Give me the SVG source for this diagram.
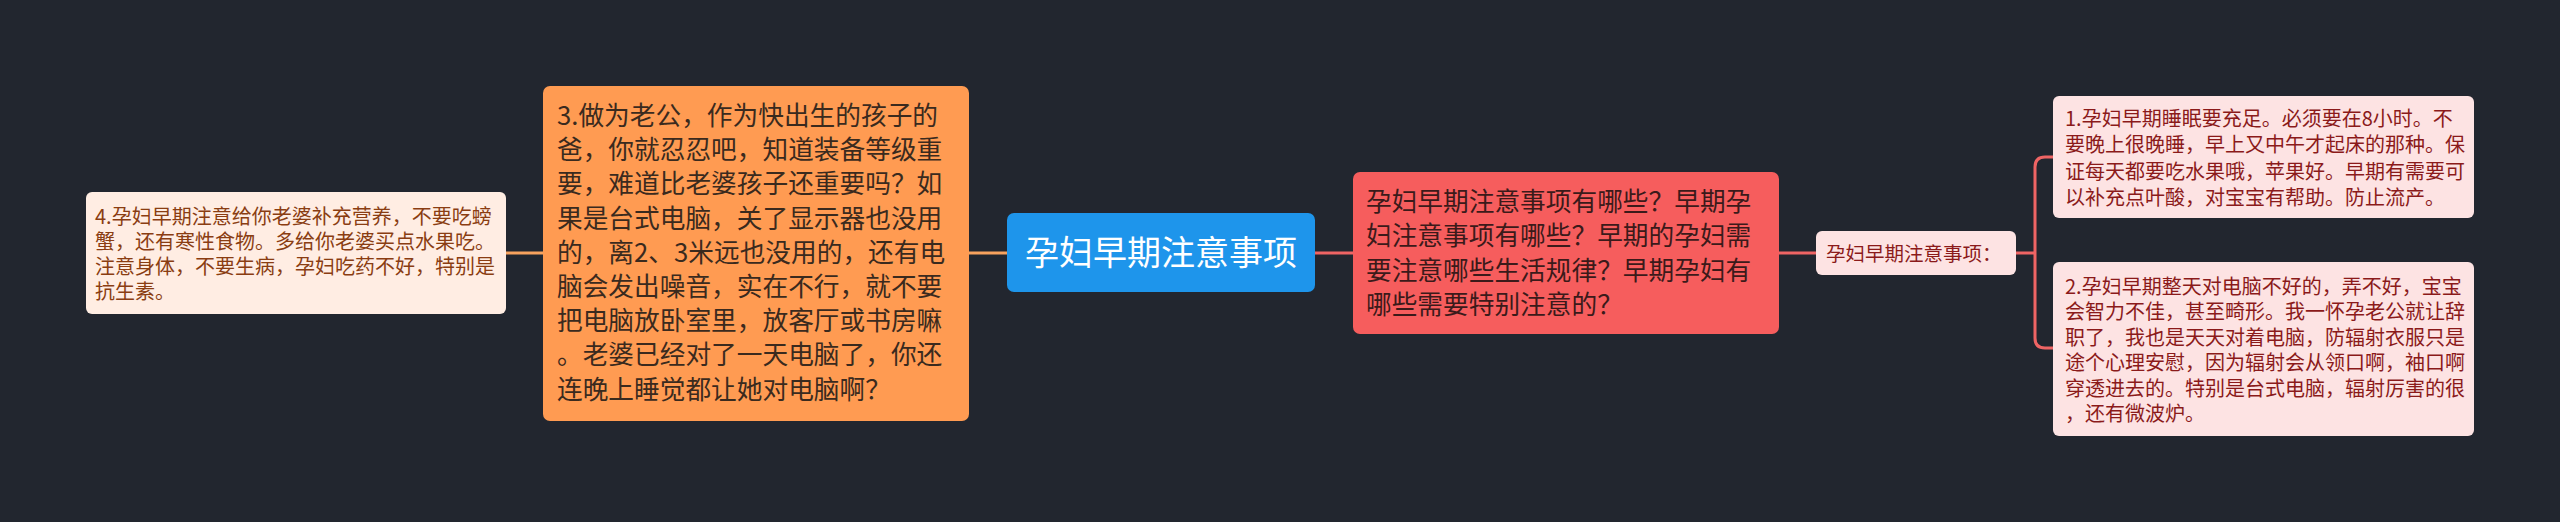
<svg xmlns="http://www.w3.org/2000/svg" width="2560" height="522" viewBox="0 0 2560 522">
<style>
.t{font-family:"Noto Sans CJK SC","Noto Sans",sans-serif}
.s20{font-size:20px}
.s26{font-size:25.7px}
.con{fill:none;stroke-width:3}
</style>
<rect x="0" y="0" width="2560" height="522" fill="#22262F"/>
<g id="connectors">
<line class="con" x1="506" y1="253" x2="543" y2="253" stroke="#F7A25E"/>
<line class="con" x1="969" y1="253" x2="1007" y2="253" stroke="#F7A25E"/>
<line class="con" x1="1315" y1="253" x2="1353" y2="253" stroke="#EF6464"/>
<line class="con" x1="1779" y1="253" x2="1816" y2="253" stroke="#EF6464"/>
<path class="con" d="M2016 253 H2035 M2053 157 H2045 Q2035 157 2035 167 V338 Q2035 348 2045 348 H2053" stroke="#EF6464"/>
</g>
<g id="center">
<rect x="1007" y="213" width="308" height="79" rx="7" fill="#1E95EB"/>
<text class="t" x="1161" y="265" font-size="34" fill="#FFFFFF" text-anchor="middle">孕妇早期注意事项</text>
</g>
<g id="node3">
<rect x="543" y="86" width="426" height="335" rx="7" fill="#FF9B52"/>
<text class="t s26" fill="#3A2A1E">
<tspan x="557" y="125">3.做为老公，作为快出生的孩子的</tspan>
<tspan x="557" y="159.2">爸，你就忍忍吧，知道装备等级重</tspan>
<tspan x="557" y="193.4">要，难道比老婆孩子还重要吗？如</tspan>
<tspan x="557" y="227.6">果是台式电脑，关了显示器也没用</tspan>
<tspan x="557" y="261.8">的，离2、3米远也没用的，还有电</tspan>
<tspan x="557" y="296">脑会发出噪音，实在不行，就不要</tspan>
<tspan x="557" y="330.2">把电脑放卧室里，放客厅或书房嘛</tspan>
<tspan x="557" y="364.4">。老婆已经对了一天电脑了，你还</tspan>
<tspan x="557" y="398.6">连晚上睡觉都让她对电脑啊？</tspan>
</text>
</g>
<g id="node4">
<rect x="86" y="192" width="420" height="122" rx="6" fill="#FFEDE3"/>
<text class="t s20" fill="#8A3D12">
<tspan x="95" y="224">4.孕妇早期注意给你老婆补充营养，不要吃螃</tspan>
<tspan x="95" y="249">蟹，还有寒性食物。多给你老婆买点水果吃。</tspan>
<tspan x="95" y="274">注意身体，不要生病，孕妇吃药不好，特别是</tspan>
<tspan x="95" y="299">抗生素。</tspan>
</text>
</g>
<g id="nodeRed">
<rect x="1353" y="172" width="426" height="162" rx="7" fill="#F65D5D"/>
<text class="t s26" fill="#3B1A1A">
<tspan x="1366" y="211">孕妇早期注意事项有哪些？早期孕</tspan>
<tspan x="1366" y="245.4">妇注意事项有哪些？早期的孕妇需</tspan>
<tspan x="1366" y="279.8">要注意哪些生活规律？早期孕妇有</tspan>
<tspan x="1366" y="314.2">哪些需要特别注意的？</tspan>
</text>
</g>
<g id="node5">
<rect x="1816" y="231" width="200" height="44" rx="6" fill="#FDE3E3"/>
<text class="t" x="1826" y="261" font-size="19.5" fill="#8B1A1A">孕妇早期注意事项：</text>
</g>
<g id="node1">
<rect x="2053" y="96" width="421" height="122" rx="6" fill="#FDE3E3"/>
<text class="t s20" fill="#8B1A1A">
<tspan x="2065" y="126">1.孕妇早期睡眠要充足。必须要在8小时。不</tspan>
<tspan x="2065" y="152.3">要晚上很晚睡，早上又中午才起床的那种。保</tspan>
<tspan x="2065" y="178.6">证每天都要吃水果哦，苹果好。早期有需要可</tspan>
<tspan x="2065" y="205">以补充点叶酸，对宝宝有帮助。防止流产。</tspan>
</text>
</g>
<g id="node2">
<rect x="2053" y="262" width="421" height="174" rx="6" fill="#FDE3E3"/>
<text class="t s20" fill="#8B1A1A">
<tspan x="2065" y="294">2.孕妇早期整天对电脑不好的，弄不好，宝宝</tspan>
<tspan x="2065" y="319.4">会智力不佳，甚至畸形。我一怀孕老公就让辞</tspan>
<tspan x="2065" y="344.8">职了，我也是天天对着电脑，防辐射衣服只是</tspan>
<tspan x="2065" y="370.2">途个心理安慰，因为辐射会从领口啊，袖口啊</tspan>
<tspan x="2065" y="395.6">穿透进去的。特别是台式电脑，辐射厉害的很</tspan>
<tspan x="2065" y="421">，还有微波炉。</tspan>
</text>
</g>
</svg>
